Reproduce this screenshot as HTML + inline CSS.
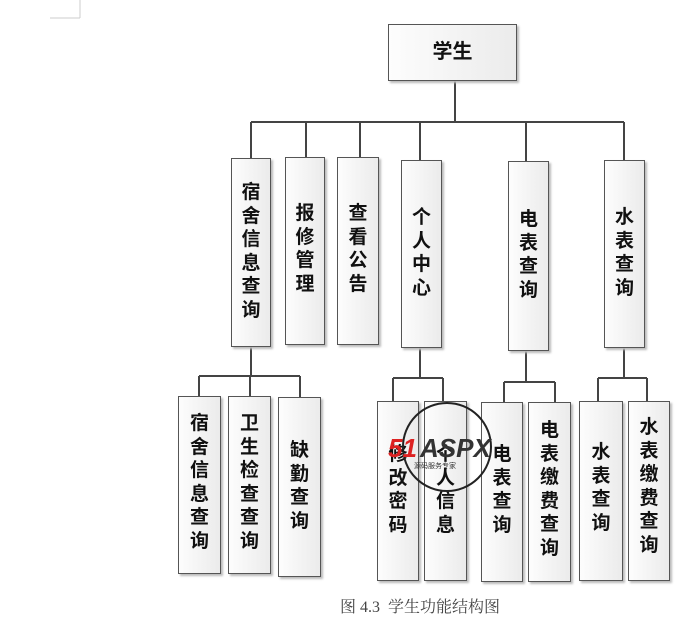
<!DOCTYPE html>
<html><head><meta charset="utf-8"><style>
body{margin:0;width:680px;height:626px;background:#fff;position:relative;overflow:hidden;font-family:"Liberation Sans","Noto Sans CJK SC",sans-serif}
.b{position:absolute;box-sizing:border-box;border:1px solid #555;background:linear-gradient(to right,#fdfdfd,#ebebeb);box-shadow:2px 2px 2px #bbb}
.t{position:absolute;left:0;right:0;text-align:center;font-weight:bold;font-size:19px;line-height:23.5px;color:#111}
svg{position:absolute;left:0;top:0}
</style></head><body>
<svg width="680" height="626">
<g stroke="#444" stroke-width="2" fill="none">
<path d="M455 81V122M251 122H624M251 122V158M306 122V157M360 122V157M420 122V160M526 122V161M624 122V160"/>
<path d="M251 347V376M199 376H300M199 376V396M250 376V396M300 376V397"/>
<path d="M420 348V378M393 378H443M393 378V401M443 378V401"/>
<path d="M526 351V382M504 382H555M504 382V402M555 382V402"/>
<path d="M624 348V378M598 378H647M598 378V401M647 378V401"/>
</g>
<path d="M80 0V18M50 18H80" stroke="#ccc" stroke-width="1" fill="none"/>
</svg>
<div class="b" style="left:388px;top:24px;width:129px;height:57px"><div class="t" style="top:16px;font-size:20px">学生</div></div>

<div class="b" style="left:231px;top:158px;width:40px;height:189px"><div class="t" style="top:22px">宿<br>舍<br>信<br>息<br>查<br>询</div></div>
<div class="b" style="left:285px;top:157px;width:40px;height:188px"><div class="t" style="top:44px">报<br>修<br>管<br>理</div></div>
<div class="b" style="left:337px;top:157px;width:42px;height:188px"><div class="t" style="top:44px">查<br>看<br>公<br>告</div></div>
<div class="b" style="left:401px;top:160px;width:41px;height:188px"><div class="t" style="top:45px">个<br>人<br>中<br>心</div></div>
<div class="b" style="left:508px;top:161px;width:41px;height:190px"><div class="t" style="top:46px">电<br>表<br>查<br>询</div></div>
<div class="b" style="left:604px;top:160px;width:41px;height:188px"><div class="t" style="top:45px">水<br>表<br>查<br>询</div></div>

<div class="b" style="left:178px;top:396px;width:43px;height:178px"><div class="t" style="top:15px">宿<br>舍<br>信<br>息<br>查<br>询</div></div>
<div class="b" style="left:228px;top:396px;width:43px;height:178px"><div class="t" style="top:15px">卫<br>生<br>检<br>查<br>查<br>询</div></div>
<div class="b" style="left:278px;top:397px;width:43px;height:180px"><div class="t" style="top:41px">缺<br>勤<br>查<br>询</div></div>

<div class="b" style="left:377px;top:401px;width:42px;height:180px"><div class="t" style="top:41px">修<br>改<br>密<br>码</div></div>
<div class="b" style="left:424px;top:401px;width:43px;height:180px"><div class="t" style="top:41px">个<br>人<br>信<br>息</div></div>
<div class="b" style="left:481px;top:402px;width:42px;height:180px"><div class="t" style="top:40px">电<br>表<br>查<br>询</div></div>
<div class="b" style="left:528px;top:402px;width:43px;height:180px"><div class="t" style="top:16px">电<br>表<br>缴<br>费<br>查<br>询</div></div>
<div class="b" style="left:579px;top:401px;width:44px;height:180px"><div class="t" style="top:39px">水<br>表<br>查<br>询</div></div>
<div class="b" style="left:628px;top:401px;width:42px;height:180px"><div class="t" style="top:14px">水<br>表<br>缴<br>费<br>查<br>询</div></div>

<svg width="680" height="626"><circle cx="447" cy="447" r="44" stroke="#222" stroke-width="2" fill="none"/>
<text x="388" y="457" font-family="Liberation Sans" font-weight="bold" font-style="italic" font-size="26" fill="#d22">51</text>
<text x="420" y="457" font-family="Liberation Sans" font-weight="bold" font-style="italic" font-size="26" fill="#333">ASPX</text>
<text x="414" y="468" font-family="Noto Sans CJK SC,sans-serif" font-size="7" fill="#333">源码服务专家</text></svg>

<div style="position:absolute;left:340px;top:594px;font-family:'Liberation Serif','Noto Serif CJK SC',serif;font-size:16px;color:#444;white-space:nowrap">图 4.3&nbsp; 学生功能结构图</div>
</body></html>
